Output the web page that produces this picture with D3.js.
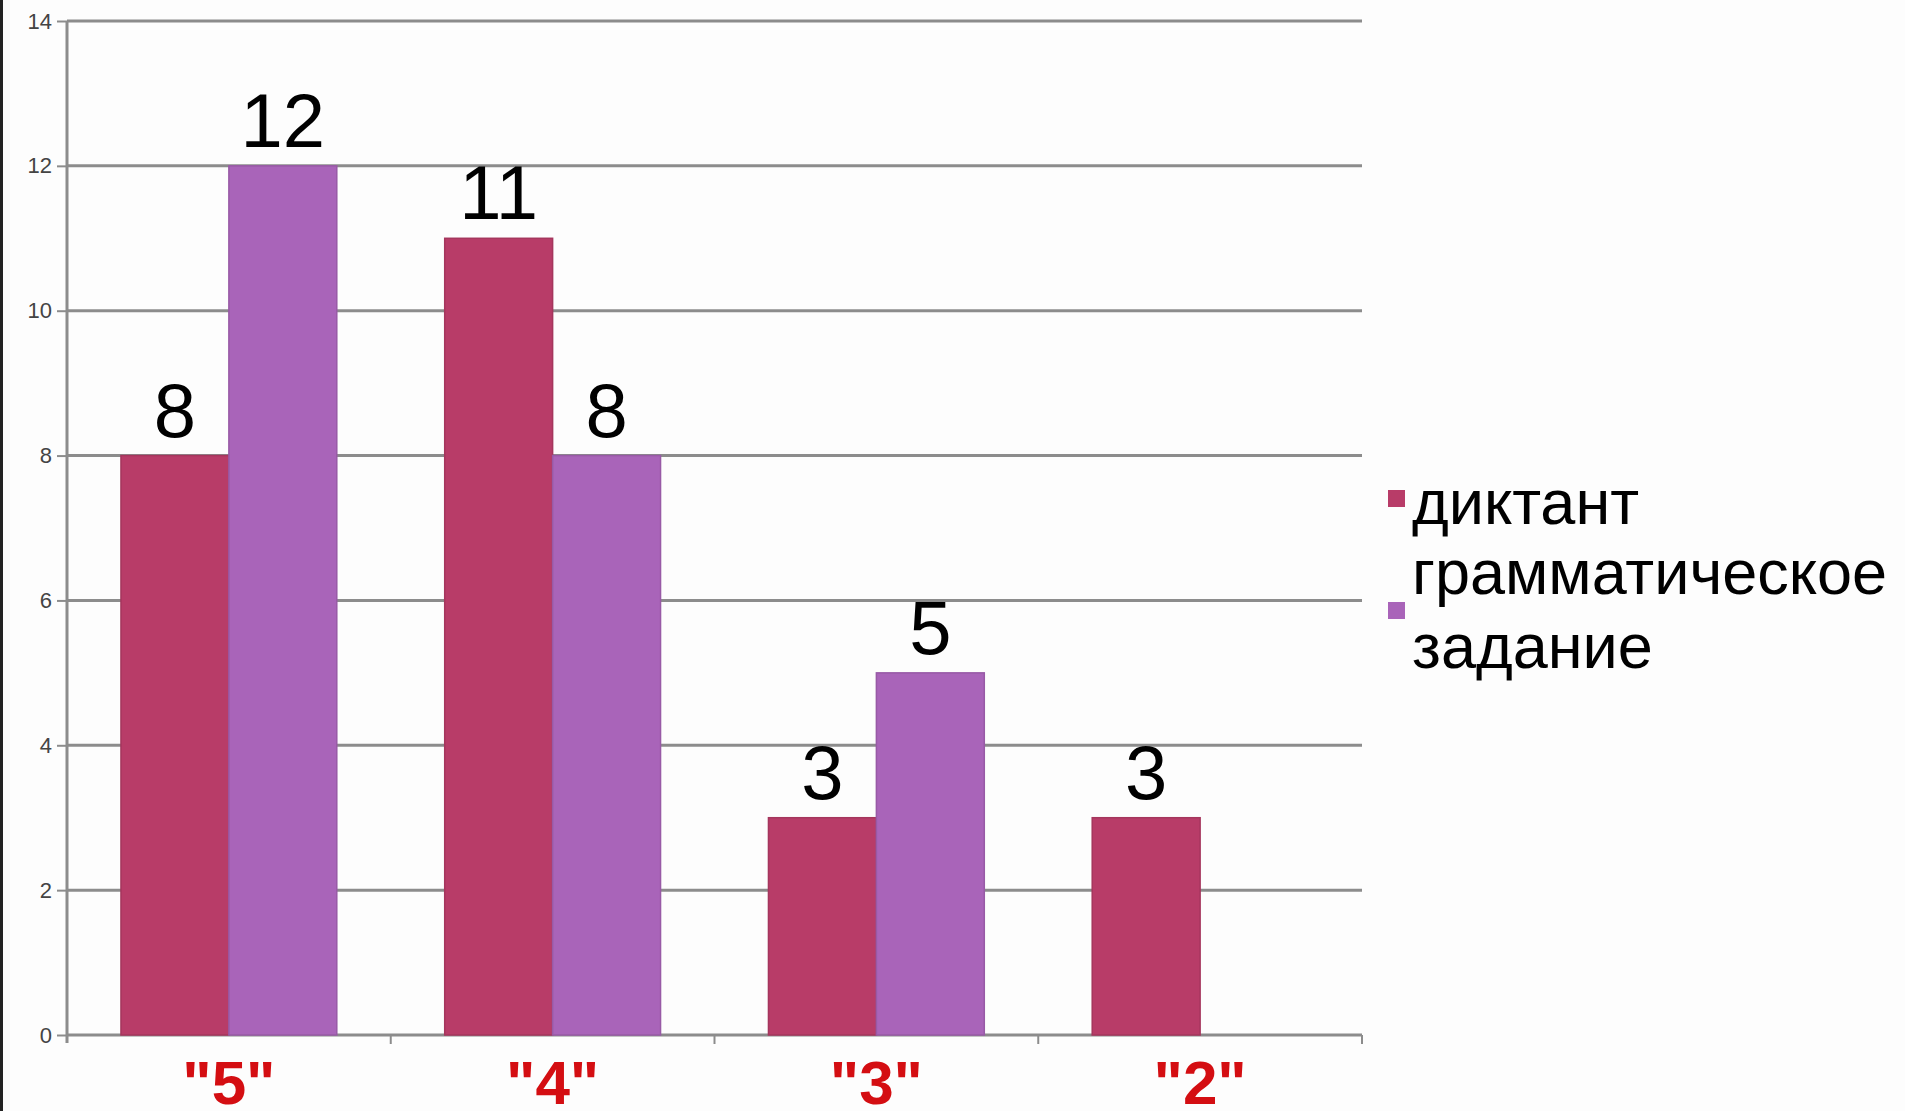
<!DOCTYPE html>
<html>
<head>
<meta charset="utf-8">
<script src="https://cdn.jsdelivr.net/npm/d3@7"></script>
<style>
  body { margin: 0; background: #fdfdfd; }
  text { font-family: "Liberation Sans", Arial, sans-serif; }
</style>
</head>
<body>
<svg id="chart" width="1905" height="1111"></svg>
<script>
// данные диаграммы
const categories = ['"5"', '"4"', '"3"', '"2"'];
const seriesNames = ["диктант", "грамматическое задание"];
const diktant = [8, 11, 3, 3];
const grammatika = [12, 8, 5, null];
const yTicks = [0, 2, 4, 6, 8, 10, 12, 14];
const colors = ["#b83c68", "#a964b9"];

const svg = d3.select("#chart");

// рамка слева как на скриншоте
svg.append("rect").attr("x", 0).attr("y", 0).attr("width", 3).attr("height", 1111).attr("fill", "#222");

const y = d3.scaleLinear().domain([0, 14]).range([1035, 21]);
const x0 = d3.scaleBand().domain(categories).range([67, 1362])
    .paddingInner(1 / 3).paddingOuter(1 / 6);
const x1 = d3.scaleBand().domain([0, 1]).range([0, x0.bandwidth()]);

// сетка
svg.append("g").selectAll("line").data(yTicks.filter(d => d > 0)).join("line")
    .attr("x1", 67).attr("x2", 1362)
    .attr("y1", d => y(d)).attr("y2", d => y(d))
    .attr("stroke", "#8c8c8c").attr("stroke-width", 3);

// ось Y
const yAxis = svg.append("g").attr("transform", "translate(67,0)")
    .call(d3.axisLeft(y).tickValues(yTicks).tickSize(10).tickPadding(5));
yAxis.select(".domain").attr("stroke", "#8c8c8c").attr("stroke-width", 3)
    .attr("d", "M0,21V1043");
yAxis.selectAll(".tick line").attr("stroke", "#8c8c8c").attr("stroke-width", 2);
yAxis.selectAll(".tick text").attr("font-size", 22).attr("fill", "#444")
    .attr("font-family", "Liberation Sans, Arial, sans-serif");

// ось X
const bounds = categories.map(c => x0(c) - x0.step() * x0.paddingInner() / 2 + x0.step());
svg.append("line").attr("x1", 67).attr("x2", 1362).attr("y1", y(0)).attr("y2", y(0))
    .attr("stroke", "#8c8c8c").attr("stroke-width", 3);
svg.append("g").selectAll("line").data(bounds).join("line")
    .attr("x1", d => d).attr("x2", d => d)
    .attr("y1", y(0)).attr("y2", y(0) + 9)
    .attr("stroke", "#8c8c8c").attr("stroke-width", 2);

svg.append("g").selectAll("text").data(categories).join("text")
    .attr("x", d => x0(d) + x0.bandwidth() / 2)
    .attr("y", 1104)
    .attr("text-anchor", "middle")
    .attr("font-size", 62).attr("font-weight", "bold").attr("fill", "#d40e12")
    .text(d => d);

// столбцы
const series = [diktant, grammatika];
series.forEach(function (vals, s) {
    const g = svg.append("g");
    const pts = categories.map((c, i) => ({ c: c, v: vals[i] })).filter(d => d.v != null);
    g.selectAll("rect").data(pts).join("rect")
        .attr("x", d => x0(d.c) + x1(s))
        .attr("y", d => y(d.v))
        .attr("width", x1.bandwidth())
        .attr("height", d => y(0) - y(d.v))
        .attr("fill", colors[s])
        .attr("stroke", d3.color(colors[s]).darker(0.3))
        .attr("stroke-width", 1.5);
    g.selectAll("text").data(pts).join("text")
        .attr("x", d => x0(d.c) + x1(s) + x1.bandwidth() / 2)
        .attr("y", d => y(d.v) - 19)
        .attr("text-anchor", "middle")
        .attr("font-size", 76).attr("fill", "#000")
        .text(d => d.v);
});

// легенда
const legend = svg.append("g");
const legendItems = [
    { name: "диктант", lines: ["диктант"], color: colors[0], box: 490, base: [524] },
    { name: seriesNames[1], lines: ["грамматическое", "задание"], color: colors[1], box: 602, base: [594, 668] }
];
legendItems.forEach(function (item) {
    legend.append("rect").attr("x", 1388).attr("y", item.box)
        .attr("width", 17).attr("height", 17).attr("fill", item.color);
    item.lines.forEach(function (t, i) {
        legend.append("text").attr("x", 1412).attr("y", item.base[i])
            .attr("font-size", 63).attr("fill", "#000").text(t);
    });
});
</script>
</body>
</html>
